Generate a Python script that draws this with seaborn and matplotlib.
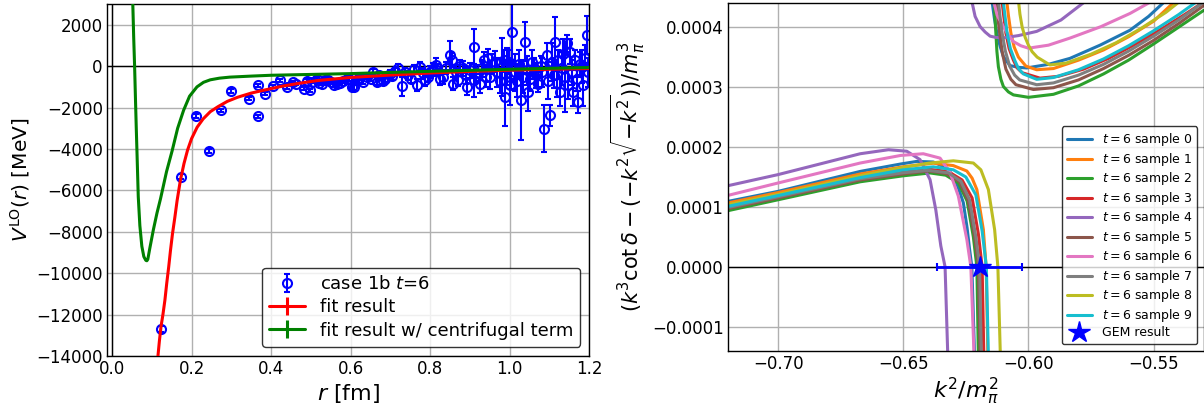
import numpy as np
import pandas as pd
import matplotlib
matplotlib.use("Agg")
import matplotlib.pyplot as plt
import seaborn as sns
from matplotlib.ticker import FuncFormatter, FixedLocator

# ---------------- left panel data ----------------
rA = [0.123, 0.173, 0.212, 0.2445, 0.274, 0.299, 0.345, 0.366, 0.366, 0.385, 0.404, 0.423, 0.440, 0.455, 0.462, 0.483, 0.490, 0.498, 0.503]
VA = [-12700, -5350, -2420, -4085, -2130, -1195, -1580, -920, -2420, -1340, -980, -690, -1020, -760, -850, -1080, -700, -1160, -760]
eA = [150, 120, 100, 100, 80, 80, 70, 70, 80, 70, 60, 60, 60, 60, 60, 70, 60, 70, 60]

rB = [0.515, 0.521, 0.528, 0.535, 0.544, 0.550, 0.557, 0.565, 0.574, 0.580, 0.590, 0.595, 0.603, 0.609, 0.615, 0.620, 0.632, 0.640, 0.650, 0.656, 0.666, 0.672, 0.680, 0.687, 0.699, 0.705, 0.712, 0.720, 0.729, 0.737, 0.745, 0.752, 0.758, 0.766, 0.775, 0.781, 0.787, 0.795]
VB = [-600, -800, -840, -650, -680, -760, -920, -850, -810, -700, -600, -640, -1000, -1030, -680, -560, -760, -500, -620, -280, -760, -420, -700, -600, -360, -480, -250, -110, -970, -300, -440, -600, -150, -920, -30, -350, -680, -500]
eB = [60, 70, 70, 70, 70, 80, 80, 80, 80, 90, 90, 90, 120, 110, 100, 100, 120, 110, 120, 130, 130, 140, 150, 160, 170, 170, 180, 200, 470, 200, 220, 220, 230, 300, 250, 260, 270, 280]

rC = [0.800, 0.808, 0.815, 0.817, 0.825, 0.833, 0.840, 0.850, 0.854, 0.858, 0.865, 0.870, 0.875, 0.883, 0.890, 0.892, 0.900, 0.909, 0.909, 0.915, 0.925, 0.930, 0.934, 0.940, 0.945, 0.950, 0.955, 0.963, 0.968, 0.975, 0.980, 0.985, 0.988, 0.994, 0.997]
VC = [-280, -150, 50, -190, -600, -517, -100, 530, 290, -840, -300, -650, 0, -113, -450, -1000, -200, 935, -678, -350, -840, -100, 290, -500, 370, -517, 100, 210, -300, -700, -32, 300, -1485, -32, 200]
eC = [300, 300, 320, 300, 300, 350, 300, 700, 350, 330, 350, 300, 300, 350, 400, 400, 350, 850, 800, 400, 450, 400, 400, 500, 450, 600, 500, 500, 700, 600, 1400, 500, 1400, 900, 600]

rD = [1.000, 1.003, 1.006, 1.012, 1.018, 1.022, 1.029, 1.033, 1.038, 1.042, 1.047, 1.052, 1.057, 1.062, 1.067, 1.072, 1.078, 1.082, 1.087, 1.093, 1.097, 1.100, 1.105, 1.110, 1.114, 1.118, 1.122, 1.126, 1.130, 1.134, 1.139, 1.143, 1.147, 1.152, 1.156, 1.160, 1.165, 1.168, 1.172, 1.176, 1.181, 1.185, 1.189, 1.193, 1.197]
VD = [-920, -400, 1660, -300, -700, 100, -1650, -500, 1180, -200, -1245, -600, 200, -100, -450, -840, 0, -300, -3018, 530, -700, -2373, 200, -436, 1180, -800, 300, -1245, -100, 600, -517, 1100, -900, 690, -300, -1245, 300, -600, -1730, 100, -32, -920, 400, 1500, -300]
eD = [950, 700, 1600, 900, 800, 700, 1900, 800, 950, 700, 900, 600, 600, 500, 600, 400, 500, 700, 1130, 600, 900, 500, 900, 600, 1200, 700, 500, 700, 800, 700, 1700, 400, 700, 600, 600, 700, 500, 600, 550, 600, 800, 1000, 600, 900, 700]

r_fit = [0.112, 0.1155, 0.119, 0.123, 0.128, 0.133, 0.1375, 0.1425, 0.147, 0.152, 0.158, 0.1636, 0.172, 0.181, 0.190, 0.200, 0.214, 0.229, 0.247, 0.267, 0.290, 0.316, 0.350, 0.389, 0.430, 0.473, 0.515, 0.557, 0.600, 0.700, 0.800, 0.900, 1.000, 1.100, 1.200]
V_fit = [-15000, -14000, -13300, -12600, -12000, -11300, -10500, -9700, -8900, -8100, -7300, -6500, -5500, -4700, -4050, -3500, -2950, -2550, -2200, -1950, -1700, -1500, -1300, -1130, -960, -820, -700, -620, -545, -430, -330, -255, -194, -150, -113]

r_cf = [0.049, 0.052, 0.0545, 0.0568, 0.0590, 0.0610, 0.0630, 0.0660, 0.0700, 0.0750, 0.0800, 0.0850, 0.0876, 0.0900, 0.0950, 0.1040, 0.1130, 0.1220, 0.1370, 0.1510, 0.1650, 0.1800, 0.1950, 0.2136, 0.2300, 0.2470, 0.2700, 0.2960, 0.3500, 0.4000, 0.5000, 0.6000, 0.7000, 0.8000, 0.9000, 1.0000, 1.1000, 1.2000]
V_cf = [5500, 3200, 1400, 0, -1600, -3000, -4300, -6300, -7700, -8700, -9200, -9380, -9400, -9330, -8800, -7900, -7100, -6400, -5100, -4100, -3000, -2130, -1450, -1000, -780, -660, -580, -530, -480, -440, -400, -360, -300, -250, -200, -150, -105, -65]

# ---------------- right panel data (y in units of 1e-4) ----------------
s0_lo_x = [-0.720, -0.700, -0.6672, -0.651, -0.6446, -0.638, -0.6326, -0.630, -0.628, -0.626, -0.6245, -0.6235, -0.6226, -0.6215]
s0_lo_y = [1.093, 1.26, 1.593, 1.717, 1.76, 1.75, 1.65, 1.51, 1.32, 1.07, 0.65, 0.29, 0.0, -1.5]
s0_up_x = [-0.6146, -0.6136, -0.6126, -0.6113, -0.6100, -0.6074, -0.6040, -0.6007, -0.5920, -0.5834, -0.5714, -0.5594, -0.552, -0.545]
s0_up_y = [4.45, 4.15, 3.90, 3.68, 3.51, 3.36, 3.33, 3.32, 3.38, 3.48, 3.70, 3.95, 4.18, 4.45]

s1_lo_x = [-0.720, -0.700, -0.6672, -0.650, -0.638, -0.630, -0.6246, -0.6225, -0.6206, -0.618, -0.6169, -0.6162]
s1_lo_y = [1.067, 1.24, 1.55, 1.67, 1.73, 1.69, 1.60, 1.48, 1.29, 0.62, 0.0, -1.5]
s1_up_x = [-0.6087, -0.6080, -0.607, -0.6057, -0.604, -0.601, -0.5967, -0.590, -0.580, -0.570, -0.560, -0.550, -0.541]
s1_up_y = [4.45, 4.20, 3.90, 3.67, 3.50, 3.35, 3.29, 3.31, 3.45, 3.62, 3.84, 4.10, 4.45]

s2_lo_x = [-0.720, -0.700, -0.6672, -0.650, -0.6393, -0.633, -0.628, -0.6245, -0.622, -0.6206, -0.620]
s2_lo_y = [0.938, 1.12, 1.42, 1.52, 1.567, 1.53, 1.40, 1.10, 0.50, 0.0, -1.5]
s2_up_x = [-0.6137, -0.6134, -0.6130, -0.6126, -0.612, -0.611, -0.610, -0.608, -0.606, -0.600, -0.590, -0.580, -0.570, -0.560, -0.550, -0.540, -0.530]
s2_up_y = [4.45, 4.20, 3.90, 3.60, 3.34, 3.13, 3.01, 2.92, 2.87, 2.83, 2.88, 3.02, 3.22, 3.45, 3.72, 4.00, 4.28]

s3_lo_x = [-0.720, -0.700, -0.6672, -0.650, -0.640, -0.632, -0.6265, -0.6225, -0.620, -0.6185, -0.6178]
s3_lo_y = [1.00, 1.18, 1.48, 1.58, 1.63, 1.59, 1.45, 1.15, 0.55, 0.0, -1.5]
s3_up_x = [-0.6106, -0.6099, -0.609, -0.6077, -0.606, -0.6045, -0.6025, -0.5954, -0.588, -0.578, -0.568, -0.558, -0.548, -0.538, -0.530]
s3_up_y = [4.45, 4.20, 3.90, 3.64, 3.45, 3.32, 3.24, 3.15, 3.18, 3.30, 3.48, 3.70, 3.94, 4.20, 4.42]

s4_lo_x = [-0.720, -0.700, -0.6672, -0.6559, -0.6486, -0.6433, -0.6393, -0.6370, -0.6350, -0.6333, -0.6322]
s4_lo_y = [1.355, 1.54, 1.888, 1.955, 1.93, 1.79, 1.455, 0.95, 0.35, 0.0, -1.5]
s4_up_x = [-0.6227, -0.6213, -0.6193, -0.6173, -0.6153, -0.6130, -0.6104, -0.6040, -0.5967, -0.5870, -0.5767]
s4_up_y = [4.45, 4.18, 4.01, 3.92, 3.85, 3.83, 3.82, 3.86, 3.93, 4.12, 4.45]

s5_lo_x = [-0.720, -0.700, -0.6672, -0.650, -0.640, -0.633, -0.6275, -0.624, -0.6215, -0.620, -0.6193]
s5_lo_y = [0.97, 1.15, 1.45, 1.55, 1.60, 1.56, 1.42, 1.10, 0.50, 0.0, -1.5]
s5_up_x = [-0.6129, -0.6123, -0.6115, -0.6104, -0.609, -0.607, -0.605, -0.598, -0.590, -0.580, -0.570, -0.560, -0.550, -0.540, -0.530]
s5_up_y = [4.45, 4.20, 3.90, 3.57, 3.30, 3.13, 3.04, 2.96, 2.99, 3.12, 3.31, 3.53, 3.78, 4.06, 4.36]

s6_lo_x = [-0.720, -0.700, -0.6672, -0.651, -0.642, -0.6353, -0.6313, -0.628, -0.6246, -0.623, -0.6217]
s6_lo_y = [1.193, 1.40, 1.733, 1.86, 1.888, 1.815, 1.57, 1.18, 0.455, 0.0, -1.5]
s6_up_x = [-0.614, -0.6125, -0.610, -0.608, -0.606, -0.603, -0.600, -0.592, -0.5833, -0.571, -0.5594, -0.550]
s6_up_y = [4.45, 4.20, 4.01, 3.87, 3.76, 3.69, 3.65, 3.70, 3.82, 4.01, 4.23, 4.45]

s7_lo_x = [-0.720, -0.700, -0.6672, -0.650, -0.640, -0.632, -0.627, -0.6235, -0.621, -0.6195, -0.6188]
s7_lo_y = [0.99, 1.17, 1.47, 1.57, 1.61, 1.57, 1.43, 1.12, 0.50, 0.0, -1.5]
s7_up_x = [-0.612, -0.6114, -0.6105, -0.6092, -0.6075, -0.6055, -0.6035, -0.5967, -0.590, -0.580, -0.570, -0.560, -0.550, -0.540, -0.530]
s7_up_y = [4.45, 4.20, 3.90, 3.60, 3.35, 3.20, 3.12, 3.04, 3.07, 3.20, 3.38, 3.60, 3.85, 4.12, 4.42]

s8_lo_x = [-0.720, -0.700, -0.6672, -0.650, -0.640, -0.630, -0.622, -0.619, -0.616, -0.6135, -0.6122, -0.6112]
s8_lo_y = [1.038, 1.21, 1.52, 1.66, 1.73, 1.77, 1.733, 1.62, 1.29, 0.62, 0.0, -1.5]
s8_up_x = [-0.604, -0.6034, -0.6025, -0.6013, -0.600, -0.5985, -0.5965, -0.5914, -0.585, -0.575, -0.565, -0.555, -0.545, -0.539]
s8_up_y = [4.45, 4.22, 4.00, 3.83, 3.70, 3.59, 3.50, 3.37, 3.40, 3.55, 3.74, 3.98, 4.25, 4.45]

s9_lo_x = [-0.720, -0.700, -0.6672, -0.650, -0.638, -0.630, -0.625, -0.621, -0.6185, -0.6168, -0.616]
s9_lo_y = [1.01, 1.19, 1.49, 1.62, 1.67, 1.62, 1.50, 1.20, 0.60, 0.0, -1.5]
s9_up_x = [-0.6101, -0.6094, -0.6085, -0.6072, -0.6055, -0.6040, -0.602, -0.5967, -0.590, -0.580, -0.570, -0.560, -0.550, -0.540, -0.532]
s9_up_y = [4.45, 4.20, 3.90, 3.64, 3.45, 3.31, 3.22, 3.13, 3.16, 3.29, 3.47, 3.69, 3.94, 4.21, 4.45]

gem_x = [-0.6195]
gem_y = [0.0]
gem_xerr = [0.017]

sample_labels = [f"$t=6$ sample {i}" for i in range(10)]

# ---------------- style ----------------
sns.set_theme(style="whitegrid")
plt.rcParams.update({
    "font.family": ["DejaVu Sans"],
    "axes.edgecolor": "black",
    "axes.linewidth": 1.0,
    "grid.color": "#b0b0b0",
    "grid.linewidth": 1.0,
    "xtick.bottom": True,
    "ytick.left": True,
    "xtick.color": "black",
    "ytick.color": "black",
    "xtick.major.size": 0,
    "ytick.major.size": 0,
    "xtick.major.pad": 3,
    "ytick.major.pad": 3,
    "xtick.labelsize": 12,
    "ytick.labelsize": 12,
    "axes.labelsize": 16,
    "axes.labelcolor": "black",
    "text.color": "black",
    "legend.edgecolor": "black",
    "legend.framealpha": 0.8,
    "legend.fancybox": True,
})

fig = plt.figure(figsize=(12.04, 4.05), dpi=100)
ax1 = fig.add_axes([0.0889, 0.121, 0.4006, 0.869])
ax2 = fig.add_axes([0.6047, 0.134, 0.3950, 0.858])

# ---------------- left panel ----------------
r_all = rA + rB + rC + rD
V_all = VA + VB + VC + VD
e_all = eA + eB + eC + eD
ax1.axhline(0, color="black", lw=1.0, zorder=1.5)
ax1.axvline(0, color="black", lw=1.0, zorder=1.5)
ax1.errorbar(r_all, V_all, yerr=e_all, fmt="o", color="blue", mfc="none",
             ms=6.5, mew=1.5, elinewidth=1.5, capsize=2, capthick=1.5,
             label="case 1b $t$=6", zorder=2)
ax1.errorbar(r_fit, V_fit, yerr=np.zeros(len(r_fit)), color="red", lw=2.2,
             label="fit result", zorder=3)
ax1.errorbar(r_cf, V_cf, yerr=np.zeros(len(r_cf)), color="green", lw=2.2,
             label="fit result w/ centrifugal term", zorder=4)
ax1.set_xlim(-0.0125, 1.2)
ax1.set_ylim(-14000, 3000)
ax1.xaxis.set_major_locator(FixedLocator([0.0, 0.2, 0.4, 0.6, 0.8, 1.0, 1.2]))
ax1.yaxis.set_major_locator(FixedLocator(list(range(-14000, 2001, 2000))))
ax1.set_xlabel("$r$ [fm]", fontsize=16, labelpad=3)
ax1.set_ylabel(r"$V^{\rm LO}(r)$ [MeV]", fontsize=14.5, labelpad=3)
ax1.legend(loc="lower right", fontsize=13, labelspacing=0.3)

# ---------------- right panel ----------------
rows = []
branches = [
    (s0_lo_x, s0_lo_y, s0_up_x, s0_up_y), (s1_lo_x, s1_lo_y, s1_up_x, s1_up_y),
    (s2_lo_x, s2_lo_y, s2_up_x, s2_up_y), (s3_lo_x, s3_lo_y, s3_up_x, s3_up_y),
    (s4_lo_x, s4_lo_y, s4_up_x, s4_up_y), (s5_lo_x, s5_lo_y, s5_up_x, s5_up_y),
    (s6_lo_x, s6_lo_y, s6_up_x, s6_up_y), (s7_lo_x, s7_lo_y, s7_up_x, s7_up_y),
    (s8_lo_x, s8_lo_y, s8_up_x, s8_up_y), (s9_lo_x, s9_lo_y, s9_up_x, s9_up_y),
]
for i, (lx, ly, ux, uy) in enumerate(branches):
    for x, y in zip(lx, ly):
        rows.append((sample_labels[i], "lo", x, y * 1e-4))
    for x, y in zip(ux, uy):
        rows.append((sample_labels[i], "up", x, y * 1e-4))
df = pd.DataFrame(rows, columns=["sample", "branch", "k2", "val"])

ax2.axhline(0, color="black", lw=1.0, zorder=1.5)
sns.lineplot(data=df, x="k2", y="val", hue="sample", units="branch",
             estimator=None, sort=False, hue_order=sample_labels,
             palette=sns.color_palette("tab10", 10), linewidth=2.2, ax=ax2)
ax2.errorbar(gem_x, gem_y, xerr=gem_xerr, fmt="none", ecolor="blue",
             elinewidth=2, capsize=3, capthick=1.5, zorder=5)
ax2.plot(gem_x, gem_y, linestyle="none", marker="*", color="blue", ms=16,
         label="GEM result", zorder=6)
ax2.set_xlim(-0.72, -0.53)
ax2.set_ylim(-0.00014, 0.00044)
ax2.xaxis.set_major_locator(FixedLocator([-0.70, -0.65, -0.60, -0.55]))
ax2.yaxis.set_major_locator(FixedLocator([-0.0001, 0.0, 0.0001, 0.0002, 0.0003, 0.0004]))
ax2.yaxis.set_major_formatter(FuncFormatter(lambda v, p: f"{v:.4f}".replace("-", "\u2212") if abs(v) > 1e-12 else "0.0000"))
ax2.set_xlabel(r"$k^2/m_\pi^2$", fontsize=16, labelpad=2)
ax2.set_ylabel(r"$(k^3\cot\delta-(-k^2\sqrt{-k^2}))/m_\pi^3$", fontsize=15, labelpad=4)
h, l = ax2.get_legend_handles_labels()
ax2.legend(h, l, loc="lower right", fontsize=9, labelspacing=0.2)

fig.savefig("out.png", dpi=100)
